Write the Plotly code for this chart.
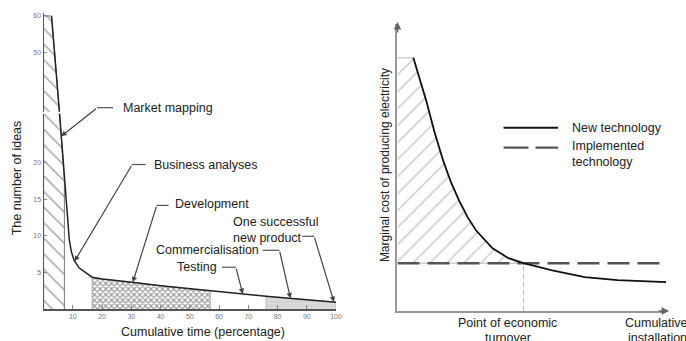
import numpy as np
import plotly.graph_objects as go

W, H = 686, 341
FONT = "Liberation Sans, Arial, sans-serif"

# ---------------- data: left panel (idea funnel) ----------------
stage_bounds = [0, 7.1, 16.6, 57, 76, 100]
ideas_upper_x = [2.7, 3.8, 5.5]
ideas_upper_y = [60, 50, 33]
ideas_x = [5.2, 7.1, 8.1, 8.8, 9.5, 10.5, 12.2, 14.6, 16.6, 20, 25.8, 30.2, 40, 50, 57, 70, 76, 85, 100]
ideas_y = [28, 17.5, 12.1, 9.4, 7.8, 6.6, 5.6, 4.9, 4.35, 4.1, 3.9, 3.67, 3.2, 2.8, 2.45, 2.0, 1.75, 1.45, 0.95]
time_ticks = [10, 20, 30, 40, 50, 60, 70, 80, 90, 100]
idea_ticks_low = [5, 10, 15, 20]
idea_ticks_high = [50, 60]
stage_labels = ["Market mapping", "Business analyses", "Development", "Testing",
                "Commercialisation", "One successful<br>new product"]
stage_arrow_x = [6.0, 10.6, 30.5, 68.1, 84.4, 99.3]

# ---------------- data: right panel (cost curves) ----------------
install_x = [0.59, 0.76, 1.07, 1.38, 1.70, 1.99, 2.29, 2.61, 2.92, 3.54, 4.13, 4.69, 5.76, 6.97, 8.19, 10.0]
new_tech_cost = [10.0, 9.42, 8.31, 7.06, 5.94, 5.09, 4.37, 3.71, 3.19, 2.48, 2.09, 1.89, 1.61, 1.34, 1.22, 1.14]
implemented_cost = 1.89
turnover_x = 4.69

# ---------------- layout helpers ----------------
def px(x):
    return x / W


def py(y):
    return 1 - y / H


L_X0, L_X1 = 44, 339          # left x axis pixels for 0..100
L_Y0, L_YTOP = 309, 113       # lower y axis pixel for 0 and top of domain
L_PPU = 7.35                  # pixels per unit lower axis
LOW_TOP = (L_Y0 - L_YTOP) / L_PPU
U_YBOT, U_YTOP = 111, 12
U_PPU = 3.7
UP_MAX = 60 + (15 - U_YTOP) / U_PPU
UP_MIN = 60 - (U_YBOT - 15) / U_PPU


def lx(v):
    return L_X0 + v * (L_X1 - L_X0) / 100


def ly(v):
    return L_Y0 - v * L_PPU


def under_curve(x0, x1):
    xs = [x0] + [x for x in ideas_x if x0 < x < x1] + [x1]
    ys = list(np.interp(xs, ideas_x, ideas_y))
    return [x0] + xs + [x1], [0] + ys + [0]


def text_ann(x, y, text, size=12.5, xanchor="left", angle=0, align="left"):
    return dict(x=px(x), y=py(y), xref="paper", yref="paper", text=text, showarrow=False,
                xanchor=xanchor, yanchor="middle", align=align, textangle=angle,
                font=dict(family=FONT, size=size, color="#222"))


fig = go.Figure()

# upper part of market mapping (broken axis)
fig.add_trace(go.Scatter(
    x=[0] + ideas_upper_x + [0], y=[ideas_upper_y[0]] + ideas_upper_y + [ideas_upper_y[-1]],
    xaxis="x", yaxis="y2", mode="lines", fill="toself", fillcolor="white",
    fillpattern=dict(shape="\\", fgcolor="#444", size=11, solidity=0.13),
    line=dict(color="#555", width=0.8), hoverinfo="skip"))
fig.add_trace(go.Scatter(x=ideas_upper_x, y=ideas_upper_y, xaxis="x", yaxis="y2",
                         mode="lines", line=dict(color="#222", width=1.5)))

# stage fills
fx, fy = under_curve(stage_bounds[0], stage_bounds[1])
fig.add_trace(go.Scatter(x=fx, y=fy, xaxis="x", yaxis="y", mode="lines", fill="toself",
                         fillcolor="white",
                         fillpattern=dict(shape="\\", fgcolor="#444", size=11, solidity=0.13),
                         line=dict(color="#555", width=0.8)))
fx, fy = under_curve(stage_bounds[2], stage_bounds[3])
fig.add_trace(go.Scatter(x=fx, y=fy, xaxis="x", yaxis="y", mode="lines", fill="toself",
                         fillcolor="white",
                         fillpattern=dict(shape="x", fgcolor="#333", bgcolor="white", size=4, solidity=0.5),
                         line=dict(color="#666", width=0.5)))
fx, fy = under_curve(stage_bounds[4], stage_bounds[5])
fig.add_trace(go.Scatter(x=fx, y=fy, xaxis="x", yaxis="y", mode="lines", fill="toself",
                         fillcolor="#d6d6d6",
                         fillpattern=dict(shape=".", fgcolor="#efefef", bgcolor="#d2d2d2", size=4, solidity=0.3),
                         line=dict(color="#999", width=0.5)))
# main curve
fig.add_trace(go.Scatter(x=ideas_x, y=ideas_y, xaxis="x", yaxis="y", mode="lines",
                         line=dict(color="#222", width=1.5)))

# ---------------- right panel traces ----------------
k = install_x.index(turnover_x) + 1
fig.add_trace(go.Scatter(
    x=[0] + install_x[:k] + [0],
    y=[new_tech_cost[0]] + new_tech_cost[:k] + [implemented_cost],
    xaxis="x2", yaxis="y3", mode="lines", fill="toself", fillcolor="white",
    fillpattern=dict(shape="/", fgcolor="#888", size=12, solidity=0.11),
    line=dict(color="#aaa", width=0.8)))
fig.add_trace(go.Scatter(x=[0, 10], y=[implemented_cost, implemented_cost], xaxis="x2", yaxis="y3",
                         mode="lines", line=dict(color="#555", width=2.5, dash="22px,8px")))
fig.add_trace(go.Scatter(x=[turnover_x, turnover_x], y=[0, implemented_cost], xaxis="x2", yaxis="y3",
                         mode="lines", line=dict(color="#bbb", width=1, dash="5px,3px")))
fig.add_trace(go.Scatter(x=install_x, y=new_tech_cost, xaxis="x2", yaxis="y3", mode="lines",
                         line=dict(color="#111", width=1.8)))

tickfont = dict(family=FONT, size=7, color="#777")
shapes = []
ann = []

# leader lines + arrows for left panel
label_pos = [  # text left x, text y, corner x, corner y, horizontal end x
    (122, 107, 98, 107, 114),
    (153, 164, 133, 164, 147),
    (175, 204, 158, 205, 170),
    (177, 267, 238, 267, 224),
    (155, 250, 282, 250, 265),
    (233, 230, 317, 236, 305),
]
for name, tx, (txp, typ, cx, cy, hx) in zip(stage_labels, stage_arrow_x, label_pos):
    ann.append(text_ann(txp, typ, name))
    shapes.append(dict(type="line", xref="paper", yref="paper", x0=px(cx), y0=py(cy),
                       x1=px(hx), y1=py(cy), line=dict(color="#555", width=1.2)))
    tv = float(np.interp(tx, ideas_x, ideas_y))
    ann.append(dict(x=tx, y=tv, xref="x", yref="y", text="", showarrow=True,
                    ax=cx - lx(tx), ay=cy - ly(tv), arrowhead=2, arrowsize=0.9,
                    arrowwidth=1.2, arrowcolor="#444", standoff=0))

# axis titles left
ann.append(text_ann(18, 177, "The number of ideas", xanchor="center", angle=-90, align="center"))
ann.append(text_ann(205, 332, "Cumulative time (percentage)", xanchor="center", align="center"))

# right panel texts
ann.append(text_ann(388, 165, "Marginal cost of producing electricity", size=12, xanchor="center",
                    angle=-90, align="center"))
ann.append(text_ann(512, 323, "Point of economic", xanchor="center", align="center"))
ann.append(text_ann(512, 338, "turnover", xanchor="center", align="center"))
ann.append(text_ann(628, 323, "Cumulative"))
ann.append(text_ann(632, 338, "installations"))
# legend
shapes.append(dict(type="line", xref="paper", yref="paper", x0=px(508), x1=px(563), y0=py(127), y1=py(127),
                   line=dict(color="#111", width=2)))
shapes.append(dict(type="line", xref="paper", yref="paper", x0=px(508), x1=px(563), y0=py(147), y1=py(147),
                   line=dict(color="#555", width=2.2, dash="25px,7px")))
ann.append(text_ann(575, 127, "New technology"))
ann.append(text_ann(575, 145, "Implemented"))
ann.append(text_ann(575, 161, "technology"))
# axis arrows right panel
ann.append(dict(x=px(401), y=py(21), xref="paper", yref="paper", text="", showarrow=True, ax=0, ay=12,
                arrowhead=2, arrowsize=1, arrowwidth=1.5, arrowcolor="#666"))
ann.append(dict(x=px(675), y=py(311), xref="paper", yref="paper", text="", showarrow=True, ax=-12, ay=0,
                arrowhead=2, arrowsize=1, arrowwidth=1.5, arrowcolor="#666"))

fig.update_layout(
    width=W, height=H, margin=dict(l=0, r=0, t=0, b=0),
    paper_bgcolor="white", plot_bgcolor="rgba(0,0,0,0)", showlegend=False,
    shapes=shapes, annotations=ann,
    xaxis=dict(domain=[px(L_X0), px(L_X1)], range=[0, 100], anchor="y", showline=True,
               linecolor="#555", linewidth=2, tickvals=time_ticks, ticks="inside", ticklen=4,
               tickcolor="#888", tickfont=tickfont, showgrid=False, zeroline=False),
    yaxis=dict(domain=[py(L_Y0), py(L_YTOP)], range=[0, LOW_TOP], anchor="x", showline=True,
               linecolor="#555", linewidth=1.2, tickvals=idea_ticks_low, ticks="inside", ticklen=3,
               tickcolor="#888", tickfont=tickfont, showgrid=False, zeroline=False),
    yaxis2=dict(domain=[py(U_YBOT), py(U_YTOP)], range=[UP_MIN, UP_MAX], anchor="x", showline=True,
                linecolor="#555", linewidth=1.2, tickvals=idea_ticks_high, ticks="inside", ticklen=3,
                tickcolor="#888", tickfont=tickfont, showgrid=False, zeroline=False),
    xaxis2=dict(domain=[px(401), px(672)], range=[0, 10], anchor="y3", showline=True,
                linecolor="#999", linewidth=1.5, showticklabels=False, ticks="", showgrid=False,
                zeroline=False),
    yaxis3=dict(domain=[py(311), py(23)], range=[0, (311 - 23) / 25.4], anchor="x2", showline=True,
                linecolor="#999", linewidth=1.5, showticklabels=False, ticks="", showgrid=False,
                zeroline=False),
)

fig.write_html("out.html", config={"displayModeBar": False},
               post_script="document.body.style.margin='0';")
